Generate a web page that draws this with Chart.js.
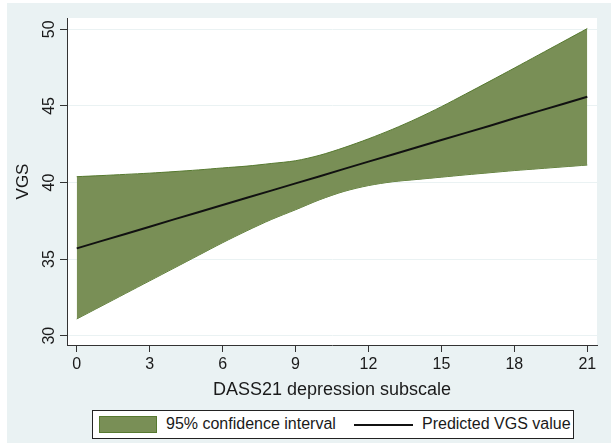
<!DOCTYPE html>
<html>
<head>
<meta charset="utf-8">
<script src="https://cdn.jsdelivr.net/npm/chart.js@4"></script>
<style>
  body { margin: 0; background: #fff; font-family: 'Liberation Sans', Arial, sans-serif; }
  #bg { position: absolute; left: 7px; top: 3px; width: 604px; height: 440px; background: #eaf2f3; }
  #wrap { position: absolute; left: 0; top: 0; width: 611px; height: 443px; }
  #legend { position: absolute; left: 92px; top: 410px; width: 480px; height: 27px; border: 1px solid #222; background: #fff; font-size: 16px; color: #1a1a1a; }
  #legend .swatch { position: absolute; left: 6px; top: 5px; width: 56px; height: 15px; background: #798f56; border: 1px solid #56792f; }
  #legend .txt { position: absolute; top: 4px; line-height: 18px; white-space: nowrap; }
  #legend .line { position: absolute; left: 261px; top: 13px; width: 59px; height: 2px; background: #111; }
</style>
</head>
<body>
<div id="bg"></div>
<div id="wrap"><canvas id="vgsChart"></canvas></div>
<div id="legend">
  <div class="swatch"></div>
  <div class="txt" style="left:73px">95% confidence interval</div>
  <div class="line"></div>
  <div class="txt" style="left:329px">Predicted VGS value</div>
</div>
<script>
// DASS21 depression score (x)
const depression = [0, 1, 2, 3, 4, 5, 6, 7, 8, 9, 10, 11, 12, 13, 14, 15, 16, 17, 18, 19, 20, 21];

// Predicted VGS and its 95% CI
const predicted = [35.70, 36.17, 36.64, 37.11, 37.59, 38.06, 38.53, 39.00, 39.47, 39.94, 40.41,
    40.89, 41.36, 41.83, 42.30, 42.77, 43.24, 43.71, 44.19, 44.66, 45.13, 45.60];
const ciUpper = [40.38, 40.45, 40.53, 40.61, 40.71, 40.82, 40.95, 41.07, 41.24, 41.42, 41.78,
    42.28, 42.85, 43.48, 44.18, 44.95, 45.78, 46.62, 47.47, 48.33, 49.19, 50.05];
const ciLower = [31.09, 31.92, 32.75, 33.58, 34.41, 35.24, 36.07, 36.85, 37.58, 38.22, 38.88,
    39.42, 39.80, 40.05, 40.20, 40.35, 40.50, 40.64, 40.78, 40.90, 41.02, 41.14];

const xTicks = [0, 3, 6, 9, 12, 15, 18, 21];
const yTicks = [30, 35, 40, 45, 50];

const green = '#798f56';
const greenEdge = '#56792f';
const axisColor = '#333';

function toPoints(ys) {
    return depression.map((x, i) => ({ x: x, y: ys[i] }));
}

// white plot region behind the data
const plotBg = {
    id: 'plotBg',
    beforeDraw(chart) {
        const a = chart.chartArea;
        const ctx = chart.ctx;
        ctx.save();
        ctx.fillStyle = '#fff';
        ctx.fillRect(a.left, a.top, a.right - a.left, a.bottom - a.top);
        ctx.restore();
    }
};

Chart.defaults.font.family = "'Liberation Sans', Arial, sans-serif";
Chart.defaults.color = '#1a1a1a';

new Chart(document.getElementById('vgsChart'), {
    type: 'line',
    data: {
        datasets: [{
            label: 'lower',
            data: toPoints(ciLower),
            borderColor: greenEdge,
            borderWidth: 1,
            pointRadius: 0,
            tension: 0.3,
            fill: false,
            order: 2
        }, {
            label: '95% confidence interval',
            data: toPoints(ciUpper),
            borderColor: greenEdge,
            backgroundColor: green,
            borderWidth: 1,
            pointRadius: 0,
            tension: 0.3,
            fill: '-1',
            order: 1
        }, {
            label: 'Predicted VGS value',
            data: toPoints(predicted),
            borderColor: '#111',
            borderWidth: 2,
            pointRadius: 0,
            tension: 0,
            fill: false,
            order: 0
        }]
    },
    options: {
        responsive: true,
        maintainAspectRatio: false,
        animation: false,
        layout: { padding: { left: 0, right: 14, top: 18, bottom: 38 } },
        plugins: {
            legend: { display: false },
            tooltip: { enabled: false }
        },
        scales: {
            x: {
                type: 'linear',
                min: -0.4,
                max: 21.4,
                afterBuildTicks: s => { s.ticks = xTicks.map(v => ({ value: v })); },
                afterFit: s => { s.height = 60; },
                ticks: { font: { size: 16 }, padding: 3, maxRotation: 0 },
                grid: { drawOnChartArea: false, tickColor: axisColor, tickLength: 7 },
                border: { color: axisColor, width: 1 },
                title: { display: true, text: 'DASS21 depression subscale', font: { size: 18 }, padding: { top: 0, bottom: 4 } }
            },
            y: {
                min: 29.39,
                max: 50.74,
                afterBuildTicks: s => { s.ticks = yTicks.map(v => ({ value: v })); },
                afterFit: s => { s.width = 67; },
                ticks: { font: { size: 16 }, padding: 2, minRotation: 90, maxRotation: 90, crossAlign: 'center' },
                grid: { color: '#eaf2f3', tickColor: axisColor, tickLength: 7 },
                border: { color: axisColor, width: 1 },
                title: { display: true, text: 'VGS', font: { size: 17 }, padding: { top: 13, bottom: 0 } }
            }
        }
    },
    plugins: [plotBg]
});
</script>
</body>
</html>
